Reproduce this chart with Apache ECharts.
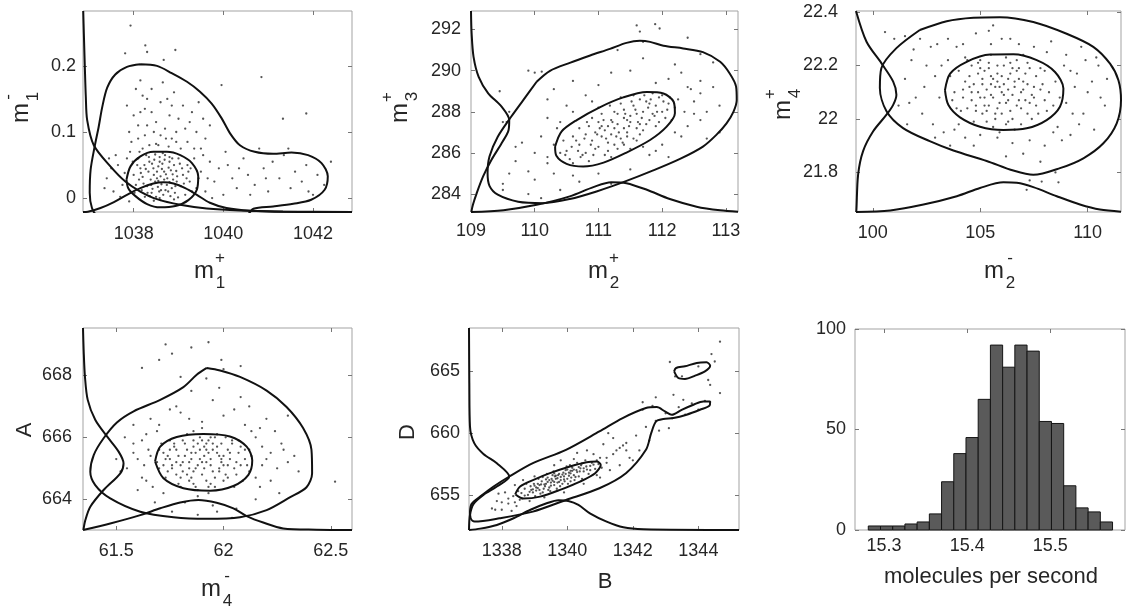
<!DOCTYPE html>
<html>
<head>
<meta charset="utf-8">
<script src="https://cdn.jsdelivr.net/npm/echarts@6/dist/echarts.min.js"></script>
<style>
  html, body { margin: 0; padding: 0; background: #fff; }
  #chart { width: 1126px; height: 613px; }
</style>
</head>
<body>
<div id="chart"></div>
<script>
// ---- panel 1 : m1+ vs m1- ----
const p1XTicks = [1038, 1040, 1042];
const p1YTicks = [0, 0.1, 0.2];
const p1Points = [
  [1038.62,0.021],[1038.45,0.035],[1038.71,0.012],[1038.88,0.028],[1038.30,0.018],[1038.55,0.048],[1038.95,0.041],[1038.20,0.032],[1038.66,0.005],[1038.80,0.055],
  [1038.40,0.008],[1039.05,0.018],[1038.15,0.045],[1038.58,0.062],[1039.10,0.035],[1038.35,0.055],[1038.75,0.030],[1038.50,0.002],[1038.92,0.008],[1038.25,0.002],
  [1039.20,0.050],[1038.05,0.020],[1038.68,0.040],[1038.48,0.025],[1038.85,0.015],[1038.10,0.060],[1039.00,0.060],[1038.60,0.033],[1038.33,0.040],[1038.78,0.046],
  [1038.42,0.014],[1039.15,0.005],[1038.57,0.010],[1038.70,0.065],[1038.28,0.065],[1038.90,0.050],[1038.00,0.035],[1039.25,0.025],[1038.52,0.040],[1038.82,0.003],
  [1038.38,0.028],[1038.64,0.052],[1038.96,0.025],[1038.18,0.012],[1038.74,0.020],[1039.08,0.045],[1038.46,0.058],[1038.60,-0.003],[1038.87,0.036],[1038.24,0.050],
  [1039.30,0.010],[1038.12,0.028],[1038.54,0.017],[1038.99,0.001],[1038.68,0.028],[1038.36,0.003],[1039.18,0.030],[1038.80,0.062],[1038.44,0.045],[1038.58,0.055],
  [1038.52,0.030],[1038.63,0.044],[1038.77,0.010],[1038.41,0.052],[1038.86,0.060],[1038.22,0.022],[1038.97,0.033],[1038.31,0.008],[1038.69,0.058],[1039.12,0.022],
  [1038.48,0.066],[1038.58,0.000],[1038.83,0.042],[1038.16,0.038],[1039.03,0.052],[1038.39,0.020],[1038.72,0.036],[1038.27,0.044],[1038.93,0.018],[1038.61,0.012],
  [1038.08,0.050],[1039.22,0.040],[1038.55,0.026],[1038.80,0.024],[1038.34,0.062],[1038.65,0.068],[1039.27,0.045],[1038.02,0.008],[1038.45,-0.004],[1038.90,-0.002],
  [1037.98,0.055],[1039.35,0.060],[1038.13,0.070],[1039.45,0.030],[1039.40,0.015],[1038.50,0.082],[1038.72,0.090],[1038.95,0.100],[1038.30,0.110],[1039.25,0.115],
  [1038.85,0.140],[1038.40,0.165],[1038.60,0.095],[1038.20,0.155],[1039.05,0.075],[1037.92,0.070],[1039.55,0.120],[1038.15,0.130],[1038.78,0.078],[1039.45,0.145],
  [1037.95,0.085],[1038.10,0.110],[1038.25,0.095],[1038.40,0.130],[1038.55,0.080],[1038.70,0.105],[1038.85,0.090],[1039.00,0.120],[1039.20,0.085],[1039.40,0.100],
  [1037.85,0.140],[1038.05,0.165],[1038.30,0.150],[1038.60,0.145],[1038.90,0.160],[1039.10,0.140],[1039.50,0.075],[1038.20,0.075],[1038.45,0.100],[1038.80,0.125],
  [1039.30,0.130],[1038.00,0.125],[1038.65,0.175],[1038.15,0.178],[1038.50,0.115],[1039.60,0.090],[1037.90,0.100],[1038.35,0.080],[1038.95,0.085],[1039.15,0.105],
  [1038.75,0.150],[1038.25,0.135],[1039.70,0.110],[1039.35,0.075],[1038.10,0.090],
  [1037.40,0.030],[1037.55,0.010],[1037.65,0.050],[1037.75,0.020],[1037.85,0.060],[1037.50,0.045],[1037.70,0.002],[1037.80,0.038],[1037.35,0.015],[1037.60,0.065],
  [1037.90,-0.005],[1037.45,0.060],
  [1039.50,0.040],[1039.60,0.010],[1039.70,0.055],[1039.80,0.025],[1039.90,0.045],[1040.00,0.005],[1040.10,0.050],[1040.20,0.030],[1040.30,0.015],[1040.45,0.060],
  [1040.55,0.035],[1040.70,0.020],[1040.80,0.075],[1040.90,0.045],[1041.00,0.010],[1041.10,0.055],[1041.25,0.030],[1041.35,0.065],[1041.50,0.015],[1041.60,0.040],
  [1041.75,0.025],[1041.85,0.050],[1042.00,0.005],[1042.10,0.035],[1042.25,0.020],[1039.55,0.065],[1039.75,0.000],[1040.05,0.070],[1040.60,0.005],[1040.95,0.030],
  [1041.45,0.075],[1041.90,0.010],[1042.40,0.055],[1039.65,0.030],[1040.35,0.045],
  [1037.93,0.261],[1038.26,0.231],[1038.30,0.221],[1038.93,0.224],[1038.67,0.209],[1037.81,0.219],[1040.85,0.183],[1039.96,0.171],[1041.33,0.120],[1041.85,0.128]
];
const p1Outer = [
  [1038.15,0.2025],[1037.85,0.1985],[1037.59,0.187],[1037.41,0.167],[1037.30,0.138],[1037.22,0.108],[1037.13,0.078],[1037.04,0.043],[1037.02,0.008],[1037.07,-0.015],
  [1037.19,-0.025],[1040.52,-0.025],[1040.67,-0.016],[1041.11,-0.0126],[1041.56,-0.0085],[1041.96,-0.0025],[1042.26,0.0126],[1042.33,0.033],[1042.19,0.053],[1041.89,0.065],
  [1041.52,0.069],[1041.11,0.067],[1040.70,0.070],[1040.37,0.080],[1040.15,0.098],[1039.96,0.121],[1039.74,0.143],[1039.48,0.161],[1039.19,0.176],[1038.85,0.189],
  [1038.52,0.200],[1038.15,0.2025]
];
const p1Inner = [
  [1037.84,0.028],[1037.93,0.048],[1038.15,0.063],[1038.44,0.070],[1038.74,0.070],[1039.04,0.065],[1039.30,0.053],[1039.44,0.033],[1039.41,0.013],[1039.22,-0.003],
  [1038.93,-0.012],[1038.59,-0.014],[1038.30,-0.009],[1038.04,0.003],[1037.88,0.015],[1037.84,0.028]
];
const p1MarginX = [
  [1036.87,-0.021],[1036.98,-0.0205],[1037.26,-0.015],[1037.56,-0.006],[1037.85,0.005],[1038.15,0.015],[1038.44,0.022],[1038.67,0.024],[1038.89,0.022],[1039.15,0.015],
  [1039.41,0.005],[1039.70,-0.007],[1040.07,-0.015],[1040.59,-0.019],[1041.70,-0.021],[1042.87,-0.021]
];
const p1MarginY = [
  [1036.875,0.283],[1036.889,0.249],[1036.911,0.198],[1036.933,0.153],[1036.963,0.118],[1037.111,0.080],[1037.481,0.048],[1037.815,0.025],[1038.148,0.010],[1038.519,-0.0015],
  [1039.037,-0.010],[1039.63,-0.0156],[1040.37,-0.0186],[1041.33,-0.0201],[1042.87,-0.0211]
];

// ---- panel 2 : m2+ vs m3+ ----
const p2XTicks = [109, 110, 111, 112, 113];
const p2YTicks = [284, 286, 288, 290, 292];
const p2Points = [
  [111.30,287.40],[111.10,287.10],[111.50,287.80],[110.90,286.60],[111.70,288.00],[111.20,286.90],[111.40,287.70],[110.80,286.90],[111.80,287.60],[111.00,287.50],
  [111.60,287.20],[110.70,286.40],[111.90,288.30],[111.25,288.00],[111.35,286.70],[110.60,286.80],[112.00,288.00],[111.15,287.30],[111.55,288.30],[110.95,286.20],
  [111.75,287.40],[111.05,286.80],[111.45,287.00],[110.85,287.30],[112.10,288.40],[111.65,288.60],[110.50,286.10],[111.85,287.90],[111.20,287.60],[111.40,286.40],
  [110.75,285.90],[112.05,287.70],[111.50,287.50],[110.65,286.60],[111.95,288.70],[111.10,285.90],[111.60,287.90],[110.90,287.70],[111.30,286.20],[111.80,288.40],
  [110.55,285.70],[112.20,288.20],[111.00,286.30],[111.70,287.10],[111.35,288.40],[110.80,286.00],[112.15,287.60],[111.45,286.80],[111.25,287.20],[110.45,286.60],
  [111.90,287.30],[111.60,286.60],[111.05,287.90],[110.70,287.20],[111.55,288.80],[112.00,288.80],[111.15,286.50],[110.60,285.50],[111.85,288.90],[111.40,288.10],
  [110.95,287.00],[111.75,288.50],[111.20,285.80],[112.25,288.60],[110.85,285.60],[111.65,286.90],[111.00,288.20],[110.40,286.00],[111.50,286.20],[111.30,287.90],
  [111.22,287.50],[111.48,287.30],[111.02,287.20],[111.68,287.70],[110.88,286.40],[111.32,287.00],[111.58,288.10],[111.12,286.70],[111.78,288.20],[110.98,286.90],
  [111.42,287.90],[111.62,287.50],[110.78,286.70],[111.92,288.00],[111.18,288.30],[111.38,286.50],[110.68,286.10],[112.08,288.10],[111.28,286.80],[111.52,288.50],
  [111.08,287.60],[111.72,288.80],[110.92,285.90],[111.88,287.80],[111.45,287.60],[110.58,286.30],[112.12,288.70],[111.15,286.10],[111.65,287.40],[110.82,287.50],
  [111.35,288.70],[111.95,287.50],[110.72,285.80],[111.55,286.70],[111.05,287.30],[112.02,288.50],[111.25,286.40],[110.48,285.90],[111.82,288.60],[111.40,287.20],
  [110.30,286.40],[110.35,287.20],[112.35,288.00],[112.45,289.10],[110.60,288.00],[110.90,288.50],[112.20,287.00],[111.70,286.30],[110.20,285.80],[112.60,289.50],
  [110.00,286.00],[110.20,285.50],[109.90,285.10],[110.10,286.80],[110.30,285.00],[109.80,286.50],[110.40,287.50],[110.00,284.70],[110.60,284.90],[110.20,287.70],
  [109.70,285.60],[110.50,288.30],[110.80,288.80],[110.30,289.10],[110.00,289.90],[109.90,290.00],[110.60,289.50],[111.00,289.30],[111.20,289.90],[111.50,290.00],
  [111.70,290.60],[111.90,289.40],[112.10,289.60],[112.30,289.90],[112.40,289.20],[112.50,288.50],[112.60,288.90],[112.70,288.00],[112.40,287.30],[112.60,287.60],
  [112.80,290.40],[112.20,290.30],[112.90,288.30],[112.30,286.80],[112.50,287.90],[112.00,286.40],[111.80,285.90],[111.50,285.20],[111.00,285.00],[110.70,284.60],
  [111.20,284.50],[110.40,284.20],[109.90,284.00],[109.50,284.50],[109.50,284.20],[109.60,285.00],[109.70,286.30],[109.50,287.50],[109.60,288.00],[110.20,288.60],
  [112.70,286.70],[112.10,285.80],[111.30,291.00],[111.70,291.40],[112.60,290.80],[112.80,289.20],[112.90,287.00],[111.90,286.10],[110.10,283.80],[109.45,289.00],
  [111.60,292.20],[111.89,292.26],[111.65,291.90],[111.96,292.05],[110.11,289.95],[112.40,291.60],[109.56,287.50]
];
const p2Outer = [
  [110.03,289.46],[110.24,289.99],[110.55,290.38],[110.87,290.74],[111.18,291.06],[111.44,291.35],[111.65,291.45],[111.81,291.40],[112.02,291.21],[112.33,291.08],
  [112.64,290.90],[112.91,290.43],[113.06,289.86],[113.16,289.22],[113.17,288.57],[113.12,288.01],[113.01,287.44],[112.85,286.88],[112.64,286.31],[112.28,285.71],
  [111.86,285.15],[111.39,284.58],[110.97,284.13],[110.55,283.76],[110.13,283.56],[109.74,283.63],[109.42,283.97],[109.29,284.40],[109.26,285.02],[109.29,285.83],
  [109.42,286.79],[109.63,287.76],[109.82,288.57],[110.03,289.46]
];
const p2Inner = [
  [110.32,286.31],[110.42,287.04],[110.66,287.60],[111.02,288.22],[111.39,288.70],[111.76,288.96],[112.02,288.89],[112.18,288.49],[112.20,287.93],[112.07,287.28],
  [111.81,286.63],[111.44,286.02],[111.08,285.53],[110.76,285.34],[110.50,285.47],[110.34,285.86],[110.32,286.31]
];
const p2MarginX = [
  [109.00,283.13],[109.51,283.22],[110.03,283.48],[110.55,283.89],[110.92,284.34],[111.20,284.58],[111.44,284.53],[111.76,284.21],[112.12,283.76],[112.54,283.39],
  [112.91,283.21],[113.19,283.14]
];
const p2MarginY = [
  [109.00,292.90],[109.01,291.80],[109.04,290.67],[109.12,289.70],[109.27,288.90],[109.48,288.25],[109.60,287.60],[109.59,287.12],[109.48,286.47],[109.32,285.66],
  [109.19,284.86],[109.09,284.05],[109.03,283.48],[109.005,283.13]
];

// ---- panel 3 : m2- vs m4+ ----
const p3XTicks = [100, 105, 110];
const p3YTicks = [21.8, 22, 22.2, 22.4];
const p3Points = [
  [106.0,22.10],[105.2,22.05],[106.8,22.15],[104.5,22.12],[107.5,22.08],[105.8,22.20],[106.5,22.00],[104.0,22.18],[107.9,22.13],[105.0,22.22],
  [106.2,21.98],[104.8,22.03],[107.2,22.21],[105.5,22.13],[106.9,22.04],[104.2,22.08],[108.2,22.10],[105.3,21.99],[106.4,22.17],[107.0,22.11],
  [105.9,22.06],[104.6,22.20],[107.7,22.02],[105.1,22.15],[106.7,22.22],[104.9,22.10],[108.0,22.18],[106.1,22.13],[105.6,21.97],[107.3,22.06],
  [104.3,22.14],[106.3,22.07],[105.4,22.19],[107.6,22.16],[104.7,21.99],[106.6,22.12],[105.7,22.02],[108.4,22.05],[105.0,22.08],[106.9,21.98],
  [104.1,22.03],[107.1,22.17],[105.8,22.14],[106.2,22.23],[104.4,22.22],[108.5,22.14],[105.3,22.11],[106.8,22.07],[103.8,22.10],[107.4,22.00],
  [105.6,22.08],[106.4,22.03],[104.9,22.17],[107.8,22.19],[105.9,21.95],[106.0,22.16],[103.9,22.04],[107.2,22.13],[105.2,22.18],[106.6,21.96],
  [108.7,22.08],[104.6,22.07],[105.5,22.24],[107.0,22.24],[104.0,21.98],[106.3,22.11],[105.1,22.02],[107.5,22.12],[103.6,22.16],[106.7,22.18],
  [105.7,22.12],[104.3,22.23],[108.1,22.03],[106.5,22.09],[105.4,22.05],
  [105.9,22.12],[106.3,22.15],[105.5,22.09],[106.7,22.05],[105.1,22.13],[107.0,22.14],[104.8,22.05],[106.1,22.20],[105.7,22.00],[107.4,22.09],
  [104.5,22.16],[106.5,22.19],[105.3,22.03],[106.9,22.10],[105.8,22.17],[104.2,22.11],[107.6,22.05],[106.2,22.06],[105.0,22.19],[107.2,22.02],
  [104.7,22.13],[106.4,22.21],[105.6,22.15],[107.8,22.11],[105.2,22.08],[106.8,22.19],[104.4,22.04],[106.0,22.02],[107.3,22.19],[105.4,22.21],
  [106.6,22.14],[104.9,22.21],[108.0,22.07],[105.8,22.04],[106.3,21.99],[104.6,22.10],[107.1,22.07],[105.5,22.16],[106.1,22.09],[103.7,22.07],
  [102.3,22.02],[102.9,22.16],[101.9,22.26],[109.3,22.02],[109.7,22.27],[108.4,21.95],[103.2,22.20],[110.6,22.08],[103.8,21.96],[109.2,22.18],
  [102.0,22.08],[102.5,22.20],[101.5,22.15],[103.0,22.28],[102.8,21.98],[101.2,22.05],[103.3,21.95],[102.2,22.30],[101.8,22.22],[103.5,22.30],
  [104.2,22.28],[104.8,22.32],[105.4,22.33],[106.0,22.30],[106.8,22.28],[107.5,22.27],[108.3,22.29],[109.0,22.24],[109.5,22.17],[110.0,22.10],
  [110.5,22.20],[109.8,22.02],[110.3,21.96],[109.2,21.94],[108.8,21.92],[108.0,21.90],[107.3,21.92],[106.5,21.91],[105.8,21.93],[105.0,21.94],
  [104.3,21.93],[103.6,21.90],[102.9,21.93],[108.6,21.97],[109.4,22.12],[110.8,22.05],[110.4,22.23],[109.0,22.06],[102.4,22.12],[101.6,21.98],
  [103.1,22.08],[108.9,22.20],[107.0,21.87],[106.2,21.86],[107.8,21.84],[108.5,21.80],[107.3,21.77],[109.9,22.22],[101.0,22.30],[104.7,21.90],
  [103.5,22.22],[102.7,22.27],[109.6,21.98],[110.9,22.15],[105.5,22.28],[101.7,22.06],[108.1,22.25],[106.4,22.30],[103.9,22.27],[110.2,22.14],
  [105.6,22.35],[101.5,22.31],[107.86,21.766],[108.64,21.763],[107.16,21.735],[100.57,22.325]
];
const p3Outer = [
  [102.19,22.333],[103.44,22.366],[104.68,22.379],[105.92,22.381],[107.47,22.363],[109.02,22.319],[110.26,22.270],[111.04,22.207],[111.43,22.145],[111.55,22.071],
  [111.35,21.984],[110.73,21.909],[109.80,21.853],[108.71,21.816],[107.47,21.791],[106.54,21.807],[105.30,21.843],[103.75,21.882],[102.65,21.917],[101.41,21.966],
  [100.64,22.029],[100.33,22.116],[100.40,22.190],[101.10,22.265],[102.19,22.333]
];
const p3Inner = [
  [103.36,22.108],[103.60,22.170],[104.37,22.214],[105.46,22.241],[106.54,22.242],[107.63,22.220],[108.48,22.176],[108.87,22.114],[108.71,22.046],[108.09,21.996],
  [107.16,21.965],[106.08,21.959],[104.99,21.971],[104.06,22.006],[103.52,22.052],[103.36,22.108]
];
const p3MarginX = [
  [99.22,21.652],[100.81,21.658],[102.36,21.680],[103.91,21.711],[104.99,21.742],[106.08,21.763],[106.70,21.761],[107.47,21.745],[108.56,21.711],[109.64,21.680],
  [110.57,21.661],[111.55,21.653]
];
const p3MarginY = [
  [99.22,22.404],[99.71,22.289],[100.40,22.209],[100.95,22.140],[101.10,22.091],[100.95,22.053],[100.64,22.016],[100.02,21.954],[99.55,21.880],[99.32,21.793],
  [99.24,21.662],[99.23,21.652]
];

// ---- panel 4 : m4- vs A ----
const p4XTicks = [61.5, 62, 62.5];
const p4YTicks = [664, 666, 668];
const p4Points = [
  [61.90,665.20],[61.85,665.50],[61.95,664.90],[61.80,665.10],[62.00,665.40],[61.88,665.80],[61.92,664.60],[61.75,665.30],[62.05,665.00],[61.83,664.80],
  [61.97,665.70],[61.70,665.00],[62.10,665.30],[61.87,665.00],[61.93,665.90],[61.78,665.60],[62.02,664.70],[61.86,664.50],[61.99,665.20],[61.73,664.70],
  [62.08,665.70],[61.91,665.40],[61.81,665.90],[61.96,664.40],[61.89,666.00],[62.04,665.90],[61.76,665.00],[61.94,665.10],[61.84,665.20],[62.12,664.90],
  [61.72,665.50],[61.98,664.90],[61.88,664.30],[62.06,665.20],[61.79,664.50],[61.92,665.60],[61.82,665.40],[62.01,666.00],[61.69,665.20],[61.95,665.60],
  [61.86,665.70],[62.09,664.60],[61.77,665.80],[61.90,664.80],[62.03,665.50],[61.74,664.90],[61.97,666.10],[61.85,664.70],[62.00,665.10],[61.83,666.10],
  [61.91,665.00],[62.07,665.90],[61.80,664.40],[61.94,665.30],[61.87,665.50],[62.13,665.40],[61.71,665.80],[61.96,664.70],[61.89,665.30],[61.78,665.20],
  [62.02,665.60],[61.93,664.20],[61.84,665.00],[62.05,664.40],[61.75,665.60],[61.99,665.80],[61.81,664.90],[61.92,665.80],[62.11,665.10],[61.86,666.20],
  [61.73,665.30],[61.98,665.40],[61.90,666.30],[61.88,664.10],[61.94,666.00],
  [61.88,665.10],[61.93,665.50],[61.83,665.60],[61.98,665.00],[61.79,665.40],[62.03,665.30],[61.86,664.90],[61.91,665.70],[61.76,665.10],[62.07,665.50],
  [61.84,664.60],[61.95,665.80],[61.72,665.10],[62.01,664.80],[61.89,665.60],[61.81,665.20],[62.10,665.60],[61.94,664.50],[61.77,665.70],[61.99,665.30],
  [61.87,664.40],[62.04,665.80],[61.74,665.40],[61.92,665.20],[61.82,665.80],[62.06,664.80],[61.97,665.50],[61.85,665.30],[61.70,665.60],[62.00,664.60],
  [61.90,665.90],[61.80,664.70],[62.08,665.10],[61.96,666.00],[61.78,664.80],[62.12,665.60],[61.86,665.90],[61.93,664.40],[61.75,665.90],[62.02,665.10],
  [61.66,665.40],[61.62,665.90],[62.18,665.10],[62.22,665.50],[61.64,664.60],[62.15,664.70],[61.58,665.50],[62.27,665.80],[61.69,666.20],[62.13,666.20],
  [61.60,665.30],[61.55,665.00],[61.65,665.60],[61.62,664.70],[61.50,665.30],[61.58,665.80],[61.67,664.40],[61.52,664.90],[61.64,666.10],[62.20,665.30],
  [62.25,665.00],[62.18,665.70],[62.22,664.60],[62.30,665.20],[62.15,666.00],[62.28,665.60],[62.17,664.40],[62.35,664.90],[62.24,666.20],[61.70,666.40],
  [61.80,666.80],[61.90,666.50],[62.00,666.70],[62.10,666.40],[61.75,666.90],[61.95,667.20],[62.05,666.90],[61.85,667.50],[61.98,667.60],[61.72,664.20],
  [61.82,663.90],[61.95,663.80],[62.06,663.70],[61.68,663.90],[62.15,664.00],[61.60,664.30],[61.78,667.00],[62.12,667.00],[62.30,666.70],[61.66,666.60],
  [61.58,666.40],[62.26,664.20],[61.92,667.90],[62.00,668.20],[61.88,663.50],[62.04,663.40],[62.20,666.60],[61.63,665.10],[62.33,665.40],[61.54,666.00],
  [61.76,663.60],[62.17,666.30],[61.84,666.60],[62.08,667.30],[61.97,663.60],
  [61.73,669.00],[61.85,668.90],[61.93,669.07],[61.99,668.50],[62.08,668.30],[61.70,668.50],[61.62,668.24],[62.52,664.57],[61.76,668.70],[61.80,667.95]
];
const p4Outer = [
  [61.922,668.24],[61.984,668.16],[62.077,667.95],[62.201,667.51],[62.294,666.98],[62.371,666.30],[62.410,665.60],[62.413,664.84],[62.387,664.39],[62.309,664.06],
  [62.201,663.65],[62.077,663.42],[61.922,663.37],[61.767,663.42],[61.612,663.60],[61.472,664.03],[61.402,664.46],[61.379,664.89],[61.395,665.43],[61.441,665.97],
  [61.503,666.48],[61.581,666.84],[61.705,667.21],[61.813,667.62],[61.875,668.02],[61.922,668.24]
];
const p4Inner = [
  [61.681,665.22],[61.705,665.70],[61.782,666.01],[61.906,666.11],[62.030,666.03],[62.108,665.70],[62.134,665.25],[62.116,664.79],[62.046,664.43],[61.937,664.28],
  [61.813,664.36],[61.720,664.68],[61.681,665.22]
];
const p4MarginX = [
  [61.345,663.01],[61.472,663.22],[61.612,663.49],[61.705,663.71],[61.798,663.90],[61.883,663.98],[61.968,663.89],[62.046,663.71],[62.108,663.46],[62.185,663.25],
  [62.278,663.06],[62.433,663.02],[62.599,663.01]
];
const p4MarginY = [
  [61.345,669.53],[61.348,668.83],[61.354,667.97],[61.367,667.21],[61.402,666.57],[61.457,666.03],[61.511,665.54],[61.534,665.16],[61.519,664.84],[61.441,664.30],
  [61.379,663.76],[61.356,663.33],[61.347,663.01]
];

// ---- panel 5 : B vs D ----
const p5XTicks = [1338, 1340, 1342, 1344];
const p5YTicks = [655, 660, 665];
const p5Points = [
  [1338.35,654.90],[1338.50,655.30],[1338.62,654.70],[1338.70,655.50],[1338.80,655.00],[1338.88,655.70],[1338.95,655.20],[1339.02,654.90],[1339.10,655.90],[1339.15,655.40],
  [1339.22,656.10],[1339.28,655.50],[1339.35,655.90],[1339.40,656.40],[1339.45,655.60],[1339.50,656.00],[1339.55,656.60],[1339.60,655.80],[1339.65,656.30],[1339.70,656.00],
  [1339.75,656.70],[1339.80,656.20],[1339.85,655.90],[1339.90,656.50],[1339.95,657.00],[1340.00,656.30],[1340.05,656.80],[1340.10,656.10],[1340.15,657.20],[1340.20,656.60],
  [1340.28,657.00],[1340.35,656.50],[1340.42,657.40],[1340.50,656.90],[1340.58,657.30],[1340.65,656.70],[1340.75,657.60],[1340.85,657.10],[1340.95,657.50],[1341.05,657.20],
  [1338.90,655.40],[1339.05,655.60],[1339.18,655.10],[1339.32,655.70],[1339.48,655.30],[1339.62,656.50],[1339.78,655.70],[1339.92,656.10],[1340.08,657.40],[1340.22,656.20],
  [1340.38,656.90],[1340.55,657.80],[1340.70,657.00],[1339.38,656.70],[1339.58,656.90],[1339.68,655.50],[1339.88,656.80],[1340.02,655.90],[1339.12,656.30],[1338.75,655.90],
  [1338.55,654.60],[1339.25,655.20],[1339.72,656.60],[1340.12,656.40],[1340.30,657.60],[1339.42,655.40],[1339.98,657.30],[1338.98,655.90],[1339.52,656.30],[1340.45,656.30],
  [1339.05,655.35],[1339.30,655.85],[1339.55,656.15],[1339.80,656.45],[1340.05,656.55],[1340.30,656.85],[1339.15,655.80],[1339.40,656.05],[1339.65,656.55],[1339.90,656.25],
  [1340.15,656.95],[1340.40,657.15],[1338.85,655.25],[1339.10,655.55],[1339.35,656.25],[1339.60,656.05],[1339.85,656.65],[1340.10,656.75],[1340.35,657.25],[1340.60,657.05],
  [1338.70,654.95],[1338.95,655.45],[1339.20,655.85],[1339.45,656.20],[1339.70,656.35],[1339.95,656.70],[1340.20,657.05],[1340.45,657.55],[1340.70,657.35],[1338.60,655.15],
  [1339.25,656.45],[1339.50,655.75],[1339.75,656.05],[1340.00,657.05],[1340.25,656.45],[1340.50,657.15],[1340.80,657.45],[1339.00,655.75],[1339.60,656.75],[1340.10,656.95],
  [1338.20,654.70],[1338.00,654.40],[1337.80,653.80],[1341.40,658.30],[1341.60,658.80],[1341.00,658.00],[1340.90,657.80],[1341.80,658.60],[1338.40,654.40],[1341.20,657.60],
  [1337.70,653.90],[1337.85,654.50],[1338.00,653.80],[1338.10,655.20],[1338.20,654.30],[1338.40,655.80],[1338.45,654.10],[1338.65,656.20],[1338.85,654.50],[1339.00,656.50],
  [1339.30,654.80],[1339.60,657.40],[1339.90,655.20],[1340.20,657.90],[1340.50,655.90],[1340.80,658.30],[1341.00,656.40],[1341.20,658.00],[1341.30,657.00],[1341.50,658.60],
  [1341.60,657.40],[1341.80,659.20],[1341.90,658.00],[1342.10,659.80],[1342.20,658.60],[1342.40,660.50],[1342.50,659.40],[1342.70,661.00],[1342.80,660.20],[1343.00,661.60],
  [1343.20,661.20],[1343.40,662.10],[1343.60,661.50],[1343.80,662.40],[1344.00,661.90],[1344.20,662.60],[1341.40,659.60],[1341.70,659.00],[1342.00,657.80],[1341.10,659.10],
  [1340.90,656.60],[1340.60,658.60],[1338.30,653.70],[1337.90,655.10],[1342.60,662.20],[1342.30,661.90],[1343.10,660.40],[1340.30,658.40],[1339.80,657.80],[1341.25,660.00],
  [1344.66,667.40],[1344.40,666.40],[1343.13,665.76],[1344.30,664.30],[1343.29,664.59],[1344.36,663.90],[1344.66,663.24],[1343.24,663.10],[1343.54,662.70],[1344.00,665.40],
  [1343.50,664.60],[1342.70,662.90],[1342.30,662.50],[1344.50,665.80]
];
const p5Outer = [
  [1337.03,653.65],[1337.08,654.27],[1337.34,654.86],[1337.75,655.68],[1338.23,656.49],[1338.95,657.57],[1339.96,658.65],[1340.98,660.14],[1341.69,661.22],[1342.40,662.03],
  [1342.73,662.11],[1342.98,661.76],[1343.19,661.49],[1343.49,661.89],[1343.85,662.30],[1344.15,662.57],[1344.36,662.57],[1344.34,662.22],[1344.05,661.89],[1343.64,661.49],
  [1343.24,661.22],[1342.93,661.14],[1342.71,660.95],[1342.56,660.00],[1342.40,658.65],[1341.79,656.76],[1340.98,655.54],[1339.96,654.59],[1338.95,653.65],[1337.93,653.11],
  [1337.17,652.84],[1337.05,653.11],[1337.03,653.65]
];
const p5Island = [
  [1343.26,665.00],[1343.39,664.46],[1343.59,664.38],[1343.90,664.65],[1344.20,665.00],[1344.36,665.46],[1344.25,665.73],[1343.95,665.68],[1343.59,665.41],[1343.32,665.27],
  [1343.26,665.00]
];
const p5Inner = [
  [1338.41,655.05],[1338.56,655.68],[1338.97,656.22],[1339.47,656.76],[1340.08,657.30],[1340.59,657.65],[1340.90,657.70],[1341.02,657.43],[1340.85,656.76],[1340.39,656.08],
  [1339.78,655.41],[1339.17,654.86],[1338.66,654.70],[1338.41,655.05]
];
const p5MarginX = [
  [1337.00,652.16],[1337.34,652.27],[1337.85,652.57],[1338.36,653.11],[1338.86,653.78],[1339.37,654.32],[1339.73,654.57],[1340.03,654.51],[1340.34,654.19],[1340.69,653.51],
  [1341.20,652.84],[1341.71,652.38],[1342.32,652.22],[1345.24,652.16]
];
const p5MarginY = [
  [1337.00,668.51],[1337.01,664.05],[1337.03,660.54],[1337.16,659.19],[1337.44,658.32],[1337.85,657.57],[1338.23,656.49],[1337.85,655.68],[1337.44,655.00],[1337.14,654.27],
  [1337.03,653.38],[1337.00,652.16]
];

// ---- panel 6 : histogram ----
const histXTicks = [15.3, 15.4, 15.5];
const histYTicks = [0, 50, 100];
const histStart = 15.281;
const histBinWidth = 0.0147;
const histCounts = [2, 2, 2, 3, 4, 8, 24, 38, 46, 65, 92, 81, 92, 89, 54, 53, 22, 11, 9, 4];

const FONT = '"Liberation Sans", Arial, sans-serif';
const FRAME = '#a3a3a3';
const TXT = '#262626';
const LINE = '#111111';
const DOT = '#2a2a2a';

const panels = [
  { box: [83, 11, 269, 201], x: [1036.87, 1042.87], y: [-0.021, 0.283], xt: p1XTicks, yt: p1YTicks, xm: 13, ym: 7,
    pts: p1Points, lines: [p1Outer, p1Inner, p1MarginX, p1MarginY] },
  { box: [471, 11, 267, 201], x: [109, 113.19], y: [283.13, 292.9], xt: p2XTicks, yt: p2YTicks, xm: 10, ym: 10,
    pts: p2Points, lines: [p2Outer, p2Inner, p2MarginX, p2MarginY] },
  { box: [856, 11, 265, 201], x: [99.22, 111.55], y: [21.652, 22.404], xt: p3XTicks, yt: p3YTicks, xm: 12, ym: 18,
    pts: p3Points, lines: [p3Outer, p3Inner, p3MarginX, p3MarginY] },
  { box: [83, 328, 269, 202], x: [61.345, 62.599], y: [663.01, 669.53], xt: p4XTicks, yt: p4YTicks, xm: 12, ym: 11,
    pts: p4Points, lines: [p4Outer, p4Inner, p4MarginX, p4MarginY] },
  { box: [469, 328, 270, 202], x: [1337.0, 1345.24], y: [652.16, 668.51], xt: p5XTicks, yt: p5YTicks, xm: 12, ym: 9,
    pts: p5Points, lines: [p5Outer, p5Island, p5Inner, p5MarginX, p5MarginY] },
  { box: [855, 329, 270, 201], x: [15.265, 15.59], y: [0, 100], xt: histXTicks, yt: histYTicks, xm: 7, ym: 9 }
];

const grids = [], xAxes = [], yAxes = [], series = [];

panels.forEach((p, i) => {
  grids.push({ left: p.box[0], top: p.box[1], width: p.box[2], height: p.box[3],
    show: true, borderColor: FRAME, borderWidth: 1 });
  const base = { type: 'value', gridIndex: i, splitLine: { show: false }, axisLine: { show: false, onZero: false } };
  const tick = (vals) => ({ inside: true, length: 4, customValues: vals, lineStyle: { color: '#777', width: 1 } });
  const label = (vals, margin) => ({ customValues: vals, margin: margin, fontSize: 18, color: TXT, fontFamily: FONT,
    formatter: (v) => String(v) });
  xAxes.push({ ...base, min: p.x[0], max: p.x[1], position: 'bottom', axisTick: tick(p.xt), axisLabel: label(p.xt, p.xm) });
  xAxes.push({ ...base, min: p.x[0], max: p.x[1], position: 'top', axisTick: tick(p.xt), axisLabel: { show: false } });
  yAxes.push({ ...base, min: p.y[0], max: p.y[1], position: 'left', axisTick: tick(p.yt), axisLabel: label(p.yt, p.ym) });
  yAxes.push({ ...base, min: p.y[0], max: p.y[1], position: 'right', axisTick: tick(p.yt), axisLabel: { show: false } });

  if (p.pts) {
    series.push({ type: 'scatter', xAxisIndex: 2 * i, yAxisIndex: 2 * i, data: p.pts, symbolSize: 2.3,
      itemStyle: { color: DOT }, silent: true, z: 2 });
    p.lines.forEach(l => series.push({ type: 'line', xAxisIndex: 2 * i, yAxisIndex: 2 * i, data: l,
      showSymbol: false, smooth: 0.3, clip: true, silent: true, z: 3,
      lineStyle: { color: LINE, width: 2 } }));
  }
});

// histogram bars
const histData = histCounts.map((c, i) => [histStart + i * histBinWidth, histStart + (i + 1) * histBinWidth, c]);
series.push({
  type: 'custom', xAxisIndex: 10, yAxisIndex: 10, data: histData, silent: true,
  encode: { x: [0, 1], y: 2 },
  renderItem: function (params, api) {
    const a = api.coord([api.value(0), api.value(2)]);
    const b = api.coord([api.value(1), 0]);
    return { type: 'rect', shape: { x: a[0], y: a[1], width: b[0] - a[0], height: b[1] - a[1] },
      style: { fill: '#5a5a5a', stroke: '#151515', lineWidth: 1 } };
  }
});

// axis titles: m with stacked superscript / subscript
function txt(t, x, y, size) {
  return { type: 'text', x: x, y: y, silent: true,
    style: { text: t, font: size + 'px ' + FONT, fill: TXT, textAlign: 'center', textVerticalAlign: 'middle',
      align: 'center', verticalAlign: 'middle' } };
}
function mLabel(cx, cy, sup, sub, vertical) {
  return { type: 'group', x: cx, y: cy, rotation: vertical ? Math.PI / 2 : 0,
    children: [txt('m', 0, -2, 24), txt(sup, 16, -15, 17), txt(sub, 16.5, 10, 17)] };
}
function plain(t, cx, cy, vertical) {
  return { type: 'group', x: cx, y: cy, rotation: vertical ? Math.PI / 2 : 0, children: [txt(t, 0, 0, 22)] };
}

const graphics = [
  mLabel(204, 273, '+', '1', false),
  mLabel(23, 113, '-', '1', true),
  mLabel(598, 273, '+', '2', false),
  mLabel(402, 113, '+', '3', true),
  mLabel(994, 273, '-', '2', false),
  mLabel(785, 110, '+', '4', true),
  mLabel(211, 591, '-', '4', false),
  plain('A', 25, 430, true),
  plain('B', 605, 582, false),
  plain('D', 408, 432, true),
  plain('molecules per second', 991, 577, false)
];

const chart = echarts.init(document.getElementById('chart'));
chart.setOption({
  animation: false,
  backgroundColor: '#fff',
  grid: grids,
  xAxis: xAxes,
  yAxis: yAxes,
  series: series,
  graphic: graphics
});
</script>
</body>
</html>
